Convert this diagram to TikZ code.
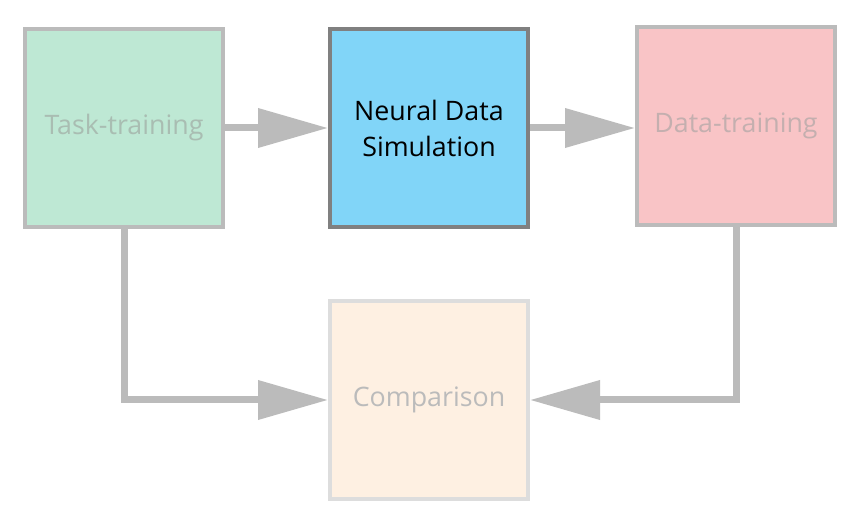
\documentclass[tikz,border=0pt]{standalone}
\usepackage{fontspec}
\setmainfont{Open Sans}
\usetikzlibrary{arrows.meta}
\definecolor{linegray}{HTML}{BBBBBB}
\definecolor{darkedge}{HTML}{808080}
\definecolor{paleedge}{HTML}{DDDDDD}
\definecolor{taskfill}{HTML}{BEE8D4}
\definecolor{neuralfill}{HTML}{81D5F8}
\definecolor{datafill}{HTML}{F9C4C6}
\definecolor{compfill}{HTML}{FEF0E2}
\definecolor{tasktext}{HTML}{A9BDB2}
\definecolor{datatext}{HTML}{C4AFAF}
\begin{document}
\begin{tikzpicture}[x=1pt,y=-1pt,
  stage/.style={draw=linegray, line width=4pt, minimum width=198pt, minimum height=198pt,
    inner sep=0pt, align=center, font=\fontsize{26.8}{36}\selectfont},
  conn/.style={draw=linegray, line width=7pt, -{Triangle[length=70pt,width=38pt]}}]
\useasboundingbox (0,0) rectangle (865,526);
\node[stage, fill=taskfill, text=tasktext] (task) at (124,128) {Task-training};
\node[stage, fill=neuralfill, draw=darkedge, text=black] (neural) at (429,128) {Neural Data\\Simulation};
\node[stage, fill=datafill, text=datatext] (data) at (736,126) {Data-training};
\node[stage, fill=compfill, draw=paleedge, text=linegray] (comp) at (429,400) {Comparison};
\draw[conn] (task.east) -- (neural.west);
\draw[conn] (neural.east) -- (data.west |- neural.east);
\draw[conn] (task.south) |- (comp.west);
\draw[conn] (data.south) |- (comp.east);
\end{tikzpicture}
\end{document}
